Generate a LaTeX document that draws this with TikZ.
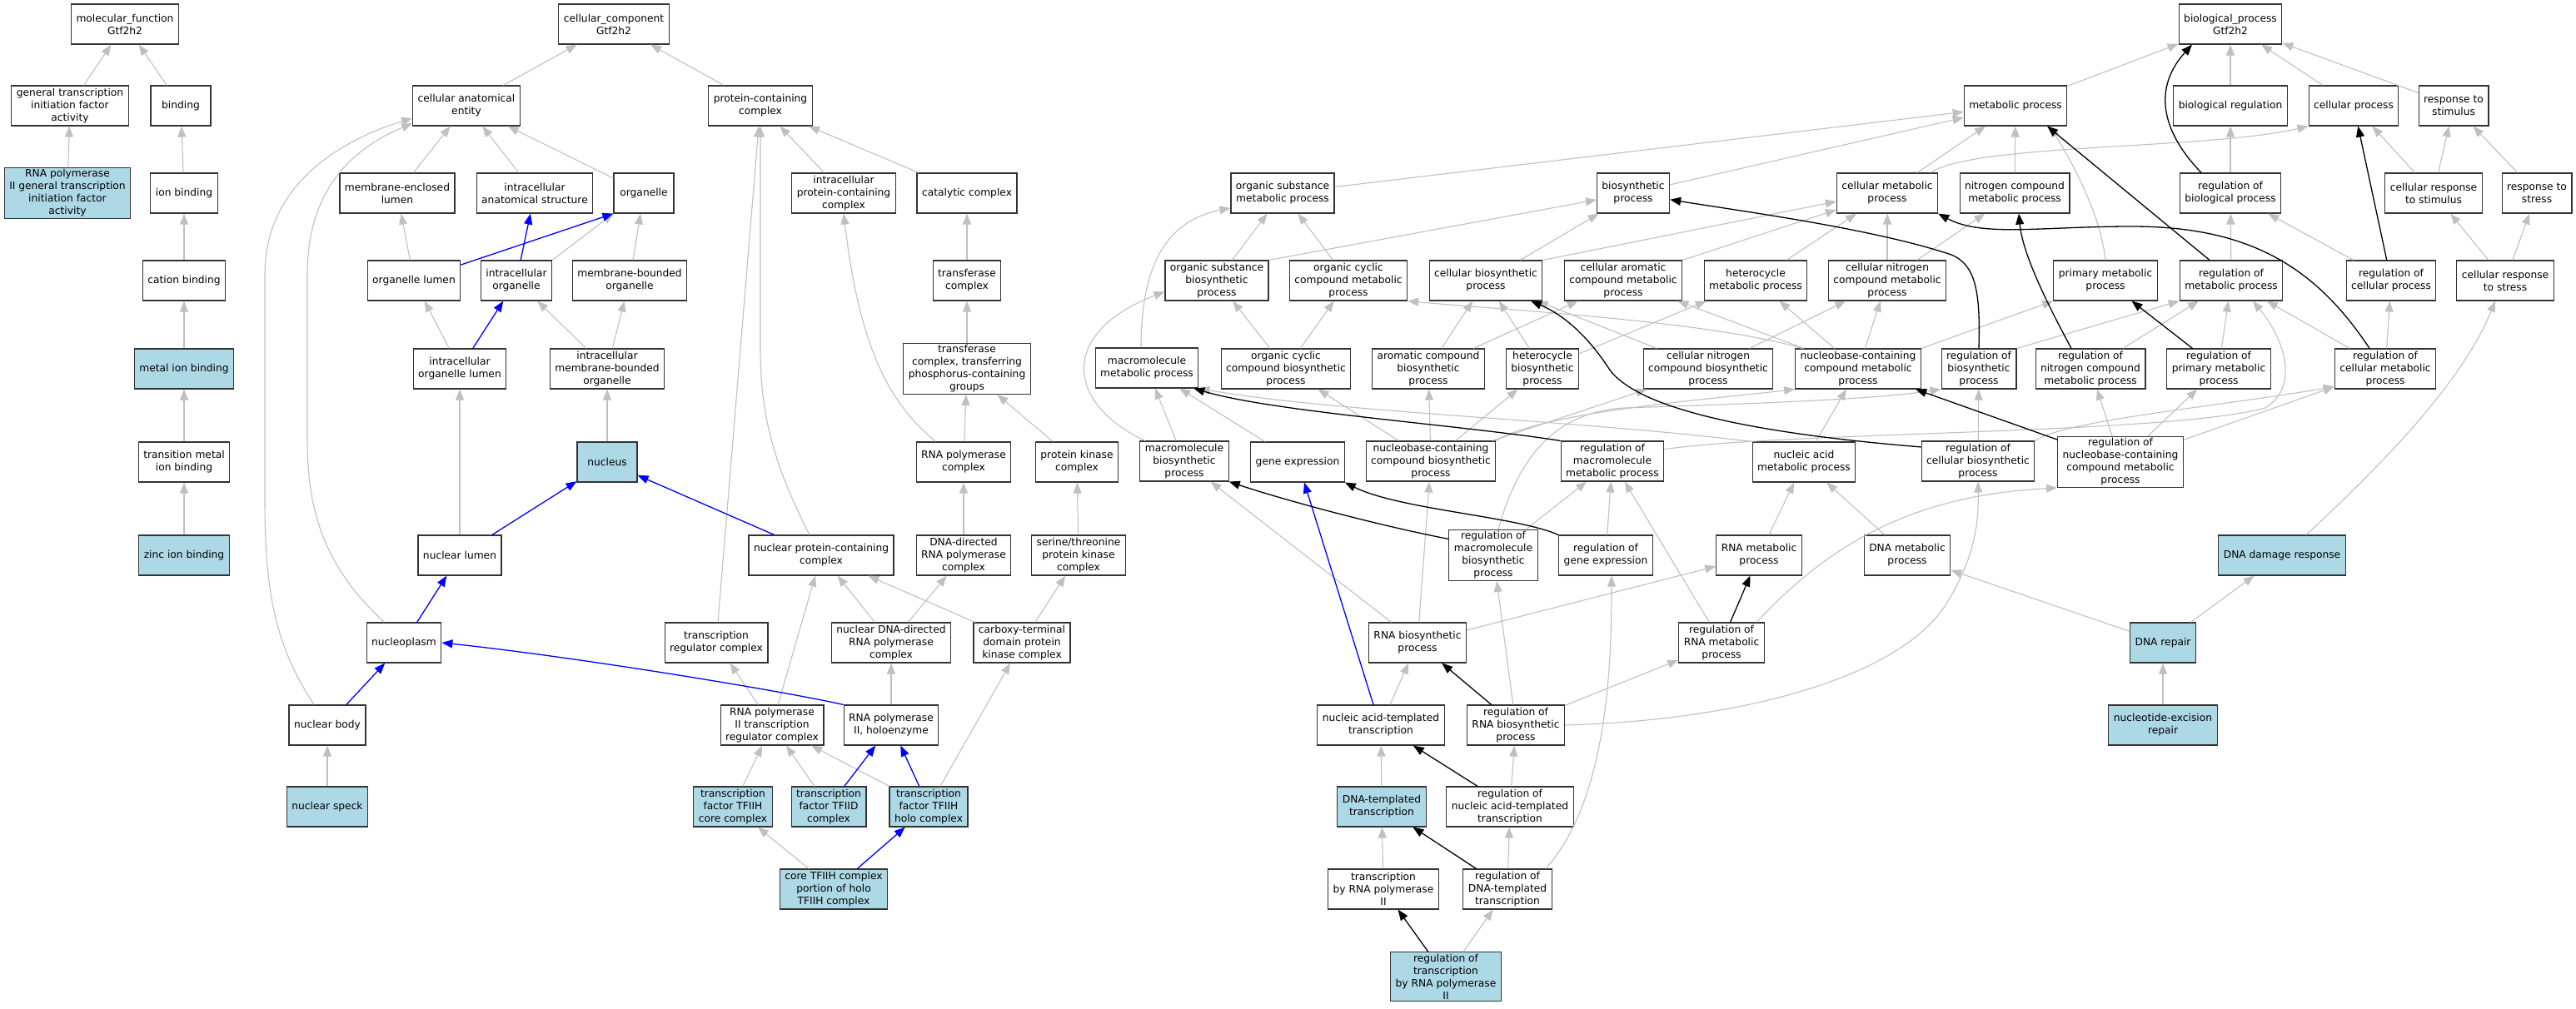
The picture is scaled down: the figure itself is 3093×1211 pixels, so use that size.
\documentclass[tikz,border=0pt]{standalone}
\usepackage{fontspec}
\setmainfont{DejaVu Sans}
\usetikzlibrary{arrows.meta}
\definecolor{hitblue}{HTML}{ADD8E6}
\definecolor{isagray}{HTML}{C0C0C0}
\begin{document}
\begin{tikzpicture}[x=1pt,y=-1pt,
  term/.style={draw=black!80,line width=1.1pt,fill=white,align=center,minimum width=72pt,minimum height=48pt,inner xsep=6pt,inner ysep=2pt,font=\fontsize{12.25}{15}\selectfont},
  hit/.style={term,fill=hitblue},
  isa/.style={draw=isagray,line width=1.1pt,-{Triangle[length=13pt,width=10pt]}},
  reg/.style={draw=black,line width=1.3pt,-{Triangle[length=13pt,width=10pt]}},
  partof/.style={draw=blue,line width=1.3pt,-{Triangle[length=13pt,width=10pt]}}]
\useasboundingbox (0,0) rectangle (3093,1211);

\node[term] (mf) at (150,29) {molecular\_function\\Gtf2h2};
\node[term] (gtifa) at (84,127) {general transcription\\initiation factor\\activity};
\node[term] (binding) at (217,127) {binding};
\node[hit] (rnapgtifa) at (81,232) {RNA polymerase\\II general transcription\\initiation factor\\activity};
\node[term] (ionb) at (221,232) {ion binding};
\node[term] (cationb) at (221,337) {cation binding};
\node[hit] (metalb) at (221,443) {metal ion binding};
\node[term] (tmetalb) at (221,555) {transition metal\\ion binding};
\node[hit] (zincb) at (221,667) {zinc ion binding};

\node[term] (cc) at (737,29) {cellular\_component\\Gtf2h2};
\node[term] (cae) at (560,127) {cellular anatomical\\entity};
\node[term] (pcc) at (913,127) {protein-containing\\complex};
\node[term] (mel) at (477,232) {membrane-enclosed\\lumen};
\node[term] (ias) at (642,232) {intracellular\\anatomical structure};
\node[term] (organelle) at (773,232) {organelle};
\node[term] (ipcc) at (1013,232) {intracellular\\protein-containing\\complex};
\node[term] (catc) at (1161,232) {catalytic complex};
\node[term] (ol) at (497,337) {organelle lumen};
\node[term] (io) at (620,337) {intracellular\\organelle};
\node[term] (mbo) at (756,337) {membrane-bounded\\organelle};
\node[term] (trc) at (1161,337) {transferase\\complex};
\node[term] (iol) at (552,443) {intracellular\\organelle lumen};
\node[term] (imbo) at (729,443) {intracellular\\membrane-bounded\\organelle};
\node[term] (trcp) at (1161,443) {transferase\\complex, transferring\\phosphorus-containing\\groups};
\node[hit] (nucleus) at (729,555) {nucleus};
\node[term] (rnapc) at (1157,555) {RNA polymerase\\complex};
\node[term] (pkc) at (1293,555) {protein kinase\\complex};
\node[term] (nl) at (552,667) {nuclear lumen};
\node[term] (npcc) at (986,667) {nuclear protein-containing\\complex};
\node[term] (ddrnapc) at (1157,667) {DNA-directed\\RNA polymerase\\complex};
\node[term] (stpkc) at (1295,667) {serine/threonine\\protein kinase\\complex};
\node[term] (nucleoplasm) at (485,772) {nucleoplasm};
\node[term] (trgc) at (860,772) {transcription\\regulator complex};
\node[term] (ndrnapc) at (1070,772) {nuclear DNA-directed\\RNA polymerase\\complex};
\node[term] (ctdpkc) at (1227,772) {carboxy-terminal\\domain protein\\kinase complex};
\node[term] (nb) at (393,871) {nuclear body};
\node[term] (rnap2trc) at (927,871) {RNA polymerase\\II transcription\\regulator complex};
\node[term] (rnap2h) at (1070,871) {RNA polymerase\\II, holoenzyme};
\node[hit] (ns) at (393,969) {nuclear speck};
\node[hit] (tfiihc) at (880,969) {transcription\\factor TFIIH\\core complex};
\node[hit] (tfiid) at (995,969) {transcription\\factor TFIID\\complex};
\node[hit] (tfiihh) at (1115,969) {transcription\\factor TFIIH\\holo complex};
\node[hit] (coretfiih) at (1001,1068) {core TFIIH complex\\portion of holo\\TFIIH complex};

\node[term] (bp) at (2678,29) {biological\_process\\Gtf2h2};
\node[term] (mp) at (2420,127) {metabolic process};
\node[term] (br) at (2678,127) {biological regulation};
\node[term] (cp) at (2826,127) {cellular process};
\node[term] (rts) at (2946,127) {response to\\stimulus};
\node[term] (osmp) at (1540,232) {organic substance\\metabolic process};
\node[term] (bsp) at (1961,232) {biosynthetic\\process};
\node[term] (cmp) at (2266,232) {cellular metabolic\\process};
\node[term] (ncmp) at (2419,232) {nitrogen compound\\metabolic process};
\node[term] (rbp) at (2678,232) {regulation of\\biological process};
\node[term] (crts) at (2922,232) {cellular response\\to stimulus};
\node[term] (rtstr) at (3046,232) {response to\\stress};
\node[term] (osbp) at (1461,337) {organic substance\\biosynthetic\\process};
\node[term] (occmp) at (1619,337) {organic cyclic\\compound metabolic\\process};
\node[term] (cbp) at (1784,337) {cellular biosynthetic\\process};
\node[term] (cacmp) at (1949,337) {cellular aromatic\\compound metabolic\\process};
\node[term] (hmp) at (2108,337) {heterocycle\\metabolic process};
\node[term] (cncmp) at (2266,337) {cellular nitrogen\\compound metabolic\\process};
\node[term] (pmp) at (2528,337) {primary metabolic\\process};
\node[term] (rmp) at (2679,337) {regulation of\\metabolic process};
\node[term] (rcp) at (2871,337) {regulation of\\cellular process};
\node[term] (crtstr) at (3008,337) {cellular response\\to stress};
\node[term] (mmp) at (1377,442) {macromolecule\\metabolic process};
\node[term] (occbp) at (1544,443) {organic cyclic\\compound biosynthetic\\process};
\node[term] (acbp) at (1715,443) {aromatic compound\\biosynthetic\\process};
\node[term] (hbp) at (1852,443) {heterocycle\\biosynthetic\\process};
\node[term] (cncbp) at (2051,443) {cellular nitrogen\\compound biosynthetic\\process};
\node[term] (nccmp) at (2231,443) {nucleobase-containing\\compound metabolic\\process};
\node[term] (rbsp) at (2376,443) {regulation of\\biosynthetic\\process};
\node[term] (rncmp) at (2510,443) {regulation of\\nitrogen compound\\metabolic process};
\node[term] (rpmp) at (2664,443) {regulation of\\primary metabolic\\process};
\node[term] (rcmp) at (2864,443) {regulation of\\cellular metabolic\\process};
\node[term] (mbp) at (1422,554) {macromolecule\\biosynthetic\\process};
\node[term] (ge) at (1558,555) {gene expression};
\node[term] (nccbp) at (1718,554) {nucleobase-containing\\compound biosynthetic\\process};
\node[term] (rmmp) at (1936,554) {regulation of\\macromolecule\\metabolic process};
\node[term] (namp) at (2166,555) {nucleic acid\\metabolic process};
\node[term] (rcbp) at (2375,554) {regulation of\\cellular biosynthetic\\process};
\node[term] (rnccmp) at (2546,555) {regulation of\\nucleobase-containing\\compound metabolic\\process};
\node[term] (rmbp) at (1793,667) {regulation of\\macromolecule\\biosynthetic\\process};
\node[term] (rge) at (1928,667) {regulation of\\gene expression};
\node[term] (rnamp) at (2112,667) {RNA metabolic\\process};
\node[term] (dnamp) at (2290,667) {DNA metabolic\\process};
\node[hit] (ddr) at (2740,667) {DNA damage response};
\node[term] (rnabp) at (1702,772) {RNA biosynthetic\\process};
\node[term] (rrnamp) at (2067,772) {regulation of\\RNA metabolic\\process};
\node[hit] (dnar) at (2597,772) {DNA repair};
\node[term] (natt) at (1658,871) {nucleic acid-templated\\transcription};
\node[term] (rrnabp) at (1820,871) {regulation of\\RNA biosynthetic\\process};
\node[hit] (ner) at (2597,871) {nucleotide-excision\\repair};
\node[hit] (dtt) at (1659,969) {DNA-templated\\transcription};
\node[term] (rnatt) at (1813,969) {regulation of\\nucleic acid-templated\\transcription};
\node[term] (trnap2) at (1661,1068) {transcription\\by RNA polymerase\\II};
\node[term] (rdtt) at (1810,1068) {regulation of\\DNA-templated\\transcription};
\node[hit] (rtrnap2) at (1736,1173) {regulation of\\transcription\\by RNA polymerase\\II};

\foreach \a/\b in {gtifa/mf,binding/mf,rnapgtifa/gtifa,ionb/binding,cationb/ionb,metalb/cationb,tmetalb/metalb,zincb/tmetalb}
  \draw[isa] (\a) -- (\b);

\foreach \a/\b in {cae/cc,pcc/cc,mel/cae,ias/cae,organelle/cae,ol/mel,mbo/organelle,iol/ol,imbo/io,imbo/mbo,nucleus/imbo,nl/iol,ipcc/pcc,catc/pcc,trc/catc,trcp/trc,rnapc/trcp,pkc/trcp,ddrnapc/rnapc,stpkc/pkc,ndrnapc/npcc,ndrnapc/ddrnapc,ctdpkc/npcc,ctdpkc/stpkc,trgc/pcc,rnap2trc/trgc,rnap2trc/npcc,rnap2h/ndrnapc,tfiihc/rnap2trc,tfiid/rnap2trc,tfiihh/rnap2trc,tfiihh/ctdpkc,coretfiih/tfiihc,ns/nb}
  \draw[isa] (\a) -- (\b);
\draw[isa] (io.north east) -- (organelle.south west);
\draw[isa] (nb.123) .. controls (330,775) and (318,710) .. (318,600) -- (318,330) .. controls (318,215) and (420,165) .. (cae.193);
\draw[isa] (nucleoplasm.134) .. controls (400,690) and (369,630) .. (369,530) -- (369,330) .. controls (369,230) and (420,180) .. (cae.198);
\draw[isa] ([xshift=-14pt]npcc.north) .. controls (930,560) and (913,500) .. (913,420) -- (pcc.south);
\draw[isa] ([xshift=-33pt]rnapc.north) .. controls (1060,480) and (1030,400) .. (ipcc.south);

\foreach \a/\b in {io/ias,iol/io,nl/nucleus,npcc/nucleus,nucleoplasm/nl,nb/nucleoplasm,tfiid/rnap2h,tfiihh/rnap2h,coretfiih/tfiihh}
  \draw[partof] (\a) -- (\b);
\draw[partof] (ol) -- (organelle.south west);
\draw[partof] (rnap2h.north west) .. controls (950,832) and (700,790) .. (nucleoplasm.east);

\foreach \a/\b in {mp/bp,br/bp,cp/bp,rts/bp,rbp/br,osmp/mp,bsp/mp,cmp/mp,ncmp/mp,crts/cp,crts/rts,rtstr/rts,rcp/rbp,rmp/rbp,crtstr/crts,crtstr/rtstr,rcmp/rcp,rcmp/rmp,rpmp/rmp,rncmp/rmp,nccmp/hmp,nccmp/cacmp,nccmp/cncmp,occmp/osmp,osbp/osmp,occbp/osbp,occbp/occmp,cbp/bsp,hmp/cmp,cncmp/cmp,cncmp/ncmp,acbp/cbp,acbp/cacmp,hbp/cbp,hbp/hmp,cncbp/cbp,cncbp/cncmp,nccbp/acbp,nccbp/hbp,nccbp/cncbp,nccbp/occbp,namp/nccmp,rcbp/rbsp,rnccmp/rcmp,rnccmp/rncmp,rnccmp/rpmp,mbp/mmp,ge/mmp,rmbp/rmmp,rge/rmmp,rrnamp/rmmp,rnamp/namp,dnamp/namp,rnabp/rnamp,rnabp/nccbp,rnabp/mbp,dnar/dnamp,dnar/ddr,natt/rnabp,rrnabp/rrnamp,rrnabp/rmbp,ner/dnar,dtt/natt,rnatt/rrnabp,trnap2/dtt,rdtt/rnatt,rtrnap2/rdtt}
  \draw[isa] (\a) -- (\b);
\draw[isa] (cbp.north east) -- ([yshift=-10pt]cmp.west);
\draw[isa] (cacmp.north east) -- ([yshift=-20pt]cmp.west);
\draw[isa] (osbp.north east) -- ([yshift=-8pt]bsp.west);
\draw[isa] (rbsp.north east) -- (rmp.south west);
\draw[isa] (nccmp.north east) -- (pmp.south west);
\draw[isa] (rcbp.north east) .. controls (2480,505) and (2650,490) .. ([yshift=3pt]rcmp.south west);
\draw[isa] (pmp.north) .. controls (2522,255) and (2485,190) .. ([xshift=41pt]mp.south);
\draw[isa] ([xshift=52pt]cmp.north) .. controls (2370,172) and (2650,180) .. (cp.south west);
\draw[isa] ([xshift=29pt]ddr.north) .. controls (2880,540) and (2960,450) .. ([xshift=-12pt]crtstr.south);
\draw[isa] (rmmp.13) .. controls (2150,518) and (2600,522) .. (2720,490) .. controls (2760,465) and (2745,410) .. ([xshift=26pt]rmp.south);
\draw[isa] ([xshift=42pt]rrnamp.north) .. controls (2200,650) and (2300,595) .. (rnccmp.south west);
\draw[isa] (rrnabp.east) .. controls (2100,865) and (2290,810) .. (2340,720) .. controls (2370,670) and (2376,630) .. (rcbp.south);
\draw[isa] ([xshift=46pt]rdtt.north) .. controls (1930,960) and (1935,800) .. ([xshift=7pt]rge.south);
\draw[isa] ([xshift=-67pt]nccmp.north) .. controls (2050,385) and (1800,372) .. (occmp.south east);
\draw[isa] ([xshift=6pt]rmbp.north) .. controls (1820,560) and (1860,495) .. (1950,490) .. controls (2100,485) and (2250,480) .. (rbsp.south west);
\draw[isa] (nccbp.north east) .. controls (1850,495) and (2050,480) .. (nccmp.south west);
\draw[isa] (namp.north west) .. controls (1900,505) and (1600,495) .. (mmp.south east);
\draw[isa] ([xshift=-47pt]mbp.north) .. controls (1280,485) and (1270,400) .. (osbp.192);
\draw[isa] ([xshift=-7pt]mmp.north) .. controls (1370,320) and (1400,265) .. (osmp.196);

\foreach \a/\b in {rcp/cp,rpmp/pmp,rnccmp/nccmp,rrnamp/rnamp,rrnabp/rnabp,rnatt/natt,rdtt/dtt,rtrnap2/trnap2}
  \draw[reg] (\a) -- (\b);
\draw[reg] ([xshift=-26pt]rmp.north) -- ([xshift=38pt]mp.south);
\draw[reg] ([xshift=-35pt]rbp.north) .. controls (2588,150) and (2590,100) .. ([xshift=-46pt]bp.south);
\draw[reg] ([xshift=-19pt]rcmp.north) .. controls (2780,320) and (2700,272) .. (2560,272) .. controls (2450,272) and (2380,285) .. (cmp.south east);
\draw[reg] ([xshift=-23pt]rncmp.north) .. controls (2450,350) and (2428,300) .. ([xshift=5pt]ncmp.south);
\draw[reg] (rbsp.north) .. controls (2378,350) and (2372,318) .. (2343,306) .. controls (2250,275) and (2100,255) .. (bsp.-10);
\draw[reg] (rcbp.166) .. controls (2100,520) and (1960,490) .. (1930,440) .. controls (1900,395) and (1870,375) .. ([xshift=54pt]cbp.south);
\draw[reg] (rmmp.north west) .. controls (1750,510) and (1530,495) .. ([xshift=-6pt]mmp.south east);
\draw[reg] (rmbp.160) .. controls (1650,630) and (1540,600) .. (mbp.south east);
\draw[reg] (rge.north west) .. controls (1820,620) and (1680,612) .. (ge.south east);
\draw[partof] ([xshift=-9pt]natt.north) -- ([xshift=8pt]ge.south);
\end{tikzpicture}
\end{document}
